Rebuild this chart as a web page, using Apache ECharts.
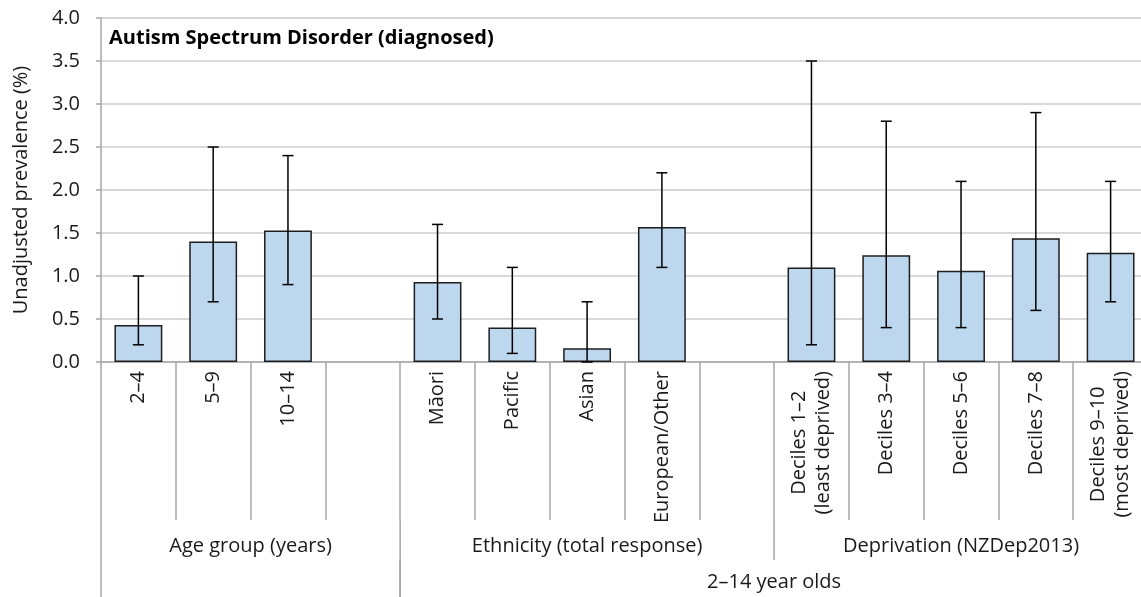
<!DOCTYPE html>
<html>
<head>
<meta charset="utf-8">
<script src="https://cdn.jsdelivr.net/npm/echarts@6/dist/echarts.min.js"></script>
<style>
  html, body { margin: 0; padding: 0; background: #fff; }
  #chart { width: 1141px; height: 597px; }
</style>
</head>
<body>
<div id="chart"></div>
<script>
// Categories (empty strings are spacer slots between groups)
const categories = [
  '2–4', '5–9', '10–14', '',
  'Māori', 'Pacific', 'Asian', 'European/Other', '',
  'Deciles 1–2\n(least deprived)', 'Deciles 3–4', 'Deciles 5–6', 'Deciles 7–8', 'Deciles 9–10\n(most deprived)'
];
// Unadjusted prevalence (%) and 95% confidence limits
const prevalence = [0.43, 1.40, 1.53, null, 0.93, 0.40, 0.16, 1.57, null, 1.10, 1.24, 1.06, 1.44, 1.27];
const ciLower    = [0.2, 0.7, 0.9, null, 0.5, 0.1, 0.0, 1.1, null, 0.2, 0.4, 0.4, 0.6, 0.7];
const ciUpper    = [1.0, 2.5, 2.4, null, 1.6, 1.1, 0.7, 2.2, null, 3.5, 2.8, 2.1, 2.9, 2.1];

// Category groupings (slot index ranges, end exclusive)
const groups = [
  { name: 'Age group (years)', from: 0, to: 4 },
  { name: 'Ethnicity (total response)', from: 4, to: 9 },
  { name: 'Deprivation (NZDep2013)', from: 9, to: 14 }
];
const outerGroups = [
  { name: '', from: 0, to: 4 },
  { name: '2–14 year olds', from: 4, to: 14 }
];

const yMin = 0, yMax = 4, yStep = 0.5;
const chartTitle = 'Autism Spectrum Disorder (diagnosed)';
const yTitle = 'Unadjusted prevalence (%)';

const FONT = '"Open Sans", "Noto Sans", sans-serif';
const FS = 20;
const LINE_H = 24;
const LABEL_MARGIN = 9;
const TEXT = '#1a1a1a';
const AXIS_GREY = '#a6a6a6';

const measureCtx = document.createElement('canvas').getContext('2d');
measureCtx.font = FS + 'px ' + FONT;
const isMultiLine = s => s.indexOf('\n') >= 0;

const chart = echarts.init(document.getElementById('chart'), null, { renderer: 'canvas' });

const errorData = categories
  .map((c, i) => [i, ciLower[i], ciUpper[i]])
  .filter(d => d[1] != null);

chart.setOption({
  animation: false,
  textStyle: { fontFamily: FONT },
  title: {
    text: chartTitle,
    left: 109, top: 28, padding: 0,
    textStyle: { fontFamily: FONT, fontSize: FS, fontWeight: 'bold', color: '#000' }
  },
  grid: { left: 101, right: -7, top: 18, bottom: 235, containLabel: false, outerBoundsMode: 'none' },
  xAxis: {
    type: 'category',
    data: categories,
    axisLine: { show: true, lineStyle: { color: AXIS_GREY, width: 1.5 } },
    axisTick: { show: true, interval: 0, length: 158, lineStyle: { color: AXIS_GREY, width: 1.5 } },
    axisLabel: {
      interval: 0, rotate: 90, margin: LABEL_MARGIN,
      fontFamily: FONT, fontSize: FS, color: TEXT,
      // two-line labels are laid out separately so each line can be centred
      formatter: v => isMultiLine(v) ? '' : v
    },
    splitLine: { show: false }
  },
  yAxis: {
    type: 'value',
    min: yMin, max: yMax, interval: yStep,
    name: yTitle,
    nameLocation: 'middle',
    nameGap: 70,
    nameTextStyle: { fontFamily: FONT, fontSize: FS, color: TEXT },
    axisLine: { show: true, lineStyle: { color: AXIS_GREY, width: 1.5 } },
    axisTick: { show: true, length: 5, lineStyle: { color: AXIS_GREY, width: 1.5 } },
    axisLabel: {
      margin: 21, fontFamily: FONT, fontSize: FS, color: TEXT,
      formatter: v => v.toFixed(1)
    },
    splitLine: { show: true, lineStyle: { color: '#cccccc', width: 1.5 } }
  },
  series: [
    {
      type: 'bar',
      data: prevalence.map(v => v == null ? '-' : v),
      barCategoryGap: '36%',
      itemStyle: { color: '#bdd7ee', borderColor: '#1e1e1e', borderWidth: 1.5 },
      z: 2
    },
    {
      type: 'custom',
      data: errorData,
      encode: { x: 0, y: [1, 2] },
      z: 3,
      renderItem: function (params, api) {
        const lo = api.coord([api.value(0), api.value(1)]);
        const hi = api.coord([api.value(0), api.value(2)]);
        const x = lo[0];
        const hw = 5.5;
        const st = { stroke: '#000', lineWidth: 1.5 };
        return {
          type: 'group',
          children: [
            { type: 'line', shape: { x1: x, y1: lo[1], x2: x, y2: hi[1] }, style: st },
            { type: 'line', shape: { x1: x - hw, y1: hi[1], x2: x + hw, y2: hi[1] }, style: st },
            { type: 'line', shape: { x1: x - hw, y1: lo[1], x2: x + hw, y2: lo[1] }, style: st }
          ]
        };
      }
    }
  ]
});

// Multi-level category labels below the axis, positioned from the axis scale
function drawGroupLevels() {
  const c0 = chart.convertToPixel({ xAxisIndex: 0 }, 0);
  const c1 = chart.convertToPixel({ xAxisIndex: 0 }, 1);
  const slotW = c1 - c0;
  const edge = b => c0 - slotW / 2 + b * slotW;
  const yBase = chart.convertToPixel({ yAxisIndex: 0 }, yMin);
  const lvl1End = yBase + 158;
  const lvl2End = lvl1End + 40;
  const bottom = chart.getHeight() + 2;
  const lineStyle = { stroke: AXIS_GREY, lineWidth: 1.5 };
  const textStyle = { fontFamily: FONT, fontSize: FS, fill: TEXT, align: 'center', verticalAlign: 'middle' };
  const elements = [];

  // rotated two-line category labels, each line centred in the block
  categories.forEach((cat, i) => {
    if (!isMultiLine(cat)) return;
    const lines = cat.split('\n');
    const maxW = Math.max.apply(null, lines.map(s => measureCtx.measureText(s).width));
    const cx = chart.convertToPixel({ xAxisIndex: 0 }, i);
    const cy = yBase + LABEL_MARGIN + maxW / 2;
    lines.forEach((s, j) => {
      elements.push({
        type: 'text', x: cx + (j - (lines.length - 1) / 2) * LINE_H, y: cy,
        rotation: Math.PI / 2,
        style: Object.assign({ text: s }, textStyle)
      });
    });
  });

  groups.forEach(g => {
    const mid = (edge(g.from) + edge(g.to)) / 2;
    elements.push({ type: 'text', x: mid, y: lvl1End + 26, style: Object.assign({ text: g.name }, textStyle) });
  });
  // group separators through the middle band
  const seps = new Set();
  groups.forEach(g => { seps.add(g.from); seps.add(g.to); });
  seps.forEach(b => {
    elements.push({ type: 'line', shape: { x1: edge(b), y1: lvl1End, x2: edge(b), y2: lvl2End }, style: lineStyle });
  });
  // outer band
  outerGroups.forEach(g => {
    const mid = (edge(g.from) + edge(g.to)) / 2;
    if (g.name) {
      elements.push({ type: 'text', x: mid, y: lvl2End + 22, style: Object.assign({ text: g.name }, textStyle) });
    }
    [g.from, g.to].forEach(b => {
      elements.push({ type: 'line', shape: { x1: edge(b), y1: lvl2End, x2: edge(b), y2: bottom }, style: lineStyle });
    });
  });

  chart.setOption({ graphic: { elements: elements } });
}
drawGroupLevels();
</script>
</body>
</html>
